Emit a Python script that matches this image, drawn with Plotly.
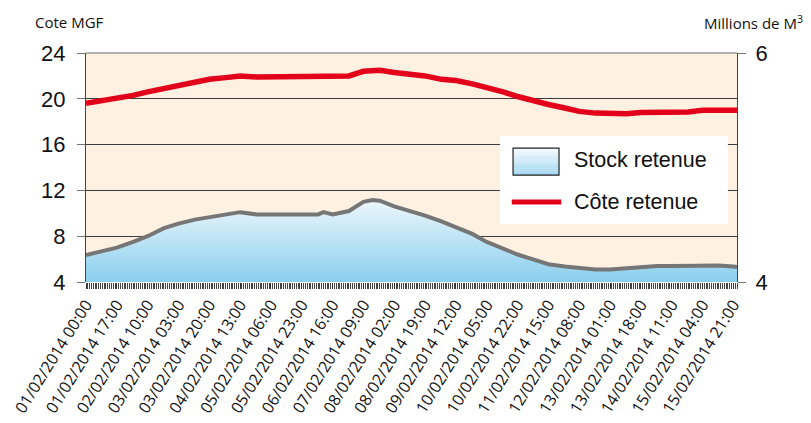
import pandas as pd
import plotly.graph_objects as go

# Readings (hour offset from 01/02/2014 00:00)
hours = [0, 9, 17, 26, 34, 43, 51, 60, 68, 77, 85, 94, 102, 111, 119, 128, 131, 136,
         145, 153, 158, 162, 170, 179, 187, 196, 204, 213, 221, 230, 238, 247, 255,
         264, 272, 281, 289, 298, 306, 315, 323, 332, 340, 349, 357, 359]
cote_retenue = [19.6, 19.85, 20.0, 20.3, 20.6, 20.9, 21.2, 21.5, 21.7, 21.85, 22.0, 21.9,
                21.9, 21.9, 21.9, 21.9, 22.0, 21.9, 22.0, 22.4, 22.5, 22.5, 22.3, 22.2,
                22.0, 21.7, 21.6, 21.3, 21.0, 20.6, 20.2, 19.8, 19.5, 19.2, 18.9, 18.75,
                18.7, 18.7, 18.8, 18.8, 18.8, 18.85, 19.0, 19.0, 19.0, 19.0]
stock_retenue = [4.236, 4.27, 4.30, 4.35, 4.40, 4.47, 4.51, 4.545, 4.565, 4.585, 4.61, 4.59,
                 4.59, 4.59, 4.59, 4.59, 4.61, 4.59, 4.62, 4.70, 4.715, 4.71, 4.66, 4.62,
                 4.58, 4.53, 4.48, 4.42, 4.35, 4.29, 4.24, 4.195, 4.155, 4.135, 4.125, 4.11,
                 4.11, 4.12, 4.135, 4.14, 4.14, 4.14, 4.14, 4.145, 4.135, 4.13]
series_names = ["Stock retenue", "Côte retenue"]

start = pd.Timestamp("2014-02-01 00:00")
x_dates = [start + pd.Timedelta(hours=h) for h in hours]
x_end = start + pd.Timedelta(hours=359)

fig = go.Figure()
fig.add_trace(go.Scatter(
    x=x_dates, y=stock_retenue, yaxis="y2", name=series_names[0],
    mode="lines", line=dict(color="#767676", width=4),
    fill="tozeroy", showlegend=False,
    fillgradient=dict(type="vertical", start=4, stop=4.72,
                      colorscale=[[0, "#8ACFEE"], [1, "#EEF7FC"]]),
))
fig.add_trace(go.Scatter(
    x=x_dates, y=cote_retenue, name=series_names[1], showlegend=False,
    mode="lines", line=dict(color="#E2001A", width=5.5),
))

# ---- hand-drawn legend (paper coordinates) ----
shapes = [
    dict(type="line", xref="paper", yref="paper", x0=0, x1=1, y0=1, y1=1,
         line=dict(color="#9a9a9a", width=1.5)),
    dict(type="rect", xref="paper", yref="paper", x0=0.636, x1=0.986, y0=0.253, y1=0.638,
         fillcolor="white", line=dict(width=0)),
]
bx0, bx1, by0, by1 = 0.656, 0.7266, 0.467, 0.585
n = 12
top_c, bot_c = (0xF4, 0xFA, 0xFE), (0xA2, 0xD7, 0xF1)
for i in range(n):
    t = i / (n - 1)
    c = tuple(round(top_c[k] + (bot_c[k] - top_c[k]) * t) for k in range(3))
    y_hi = by1 - (by1 - by0) * i / n
    y_lo = by1 - (by1 - by0) * (i + 1) / n
    shapes.append(dict(type="rect", xref="paper", yref="paper", x0=bx0, x1=bx1,
                       y0=y_lo, y1=y_hi, fillcolor="rgb(%d,%d,%d)" % c, line=dict(width=0)))
shapes.append(dict(type="rect", xref="paper", yref="paper", x0=bx0, x1=bx1, y0=by0, y1=by1,
                   line=dict(color="#222", width=1.2)))
shapes.append(dict(type="line", xref="paper", yref="paper", x0=0.654, x1=0.730,
                   y0=0.349, y1=0.349, line=dict(color="#E2001A", width=5)))

annotations = [
    dict(text="Cote MGF", xref="paper", yref="paper", x=-0.0814, y=1.135,
         xanchor="left", yanchor="middle", showarrow=False,
         font=dict(family="Open Sans", size=15, color="#111")),
    dict(text="Millions de M<sup>3</sup>", xref="paper", yref="paper", x=1.105, y=1.135,
         xanchor="right", yanchor="middle", showarrow=False,
         font=dict(family="Open Sans", size=15, color="#111")),
    dict(text=series_names[0], xref="paper", yref="paper", x=0.7465, y=0.533,
         xanchor="left", yanchor="middle", showarrow=False,
         font=dict(family="Liberation Sans, Arial", size=21.5, color="#111")),
    dict(text=series_names[1], xref="paper", yref="paper", x=0.7465, y=0.349,
         xanchor="left", yanchor="middle", showarrow=False,
         font=dict(family="Liberation Sans, Arial", size=21.5, color="#111")),
]

fig.update_layout(
    width=803, height=415,
    margin=dict(l=78, r=74, t=45, b=141, autoexpand=False),
    paper_bgcolor="white", plot_bgcolor="#FEF1E1",
    showlegend=False,
    xaxis=dict(
        type="date", range=[start, x_end], automargin=False,
        tick0=start, dtick=17 * 3600000, tickformat="%d/%m/%Y %H:%M",
        tickangle=-58, ticks="outside", ticklen=6, tickcolor="#333",
        tickfont=dict(family="Open Sans", size=16, color="#111"),
        minor=dict(dtick=3600000, ticks="outside", ticklen=6, tickcolor="#444", tickwidth=1),
        showgrid=False, showline=False, zeroline=False,
    ),
    yaxis=dict(
        range=[4, 24], tickvals=[4, 8, 12, 16, 20, 24], automargin=False,
        ticks="outside", ticklen=8, tickcolor="#777", ticklabelstandoff=7,
        tickfont=dict(family="Liberation Sans, Arial", size=22, color="#111"),
        showgrid=True, gridcolor="#3c3c3c", gridwidth=1,
        showline=True, linecolor="#444", linewidth=1, zeroline=False,
    ),
    yaxis2=dict(
        range=[4, 6], tickvals=[4, 6], overlaying="y", side="right", automargin=False,
        ticks="outside", ticklen=8, tickcolor="#777", ticklabelstandoff=5,
        tickfont=dict(family="Liberation Sans, Arial", size=22, color="#111"),
        showgrid=False, showline=True, linecolor="#444", linewidth=1, zeroline=False,
    ),
    shapes=shapes,
    annotations=annotations,
)

fig.write_html("out.html")
